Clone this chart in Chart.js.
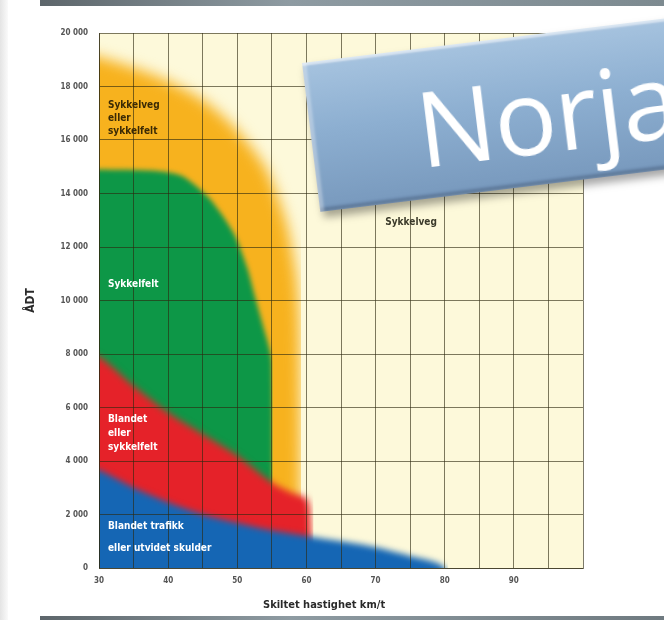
<!DOCTYPE html>
<html>
<head>
<meta charset="utf-8">
<script src="https://cdn.jsdelivr.net/npm/chart.js@4"></script>
<style>
  html, body { margin: 0; padding: 0; background: #fff; }
  body { width: 664px; height: 620px; position: relative; overflow: hidden; }
  #venstre { position: absolute; left: 0; top: 0; width: 8px; height: 620px;
    background: linear-gradient(to right, #e4e4e4, #fafafa); }
  #topp { position: absolute; left: 40px; top: 0; width: 624px; height: 6px;
    background: linear-gradient(to right, #5d666b, #8e9ba2 40%, #7d8a90); }
  #bunn { position: absolute; left: 40px; top: 616px; width: 624px; height: 4px;
    background: linear-gradient(to right, #5d666b, #8e9ba2 40%, #6f7a80); }
  #graf { position: absolute; left: 0; top: 0; }
  #skilt {
    position: absolute; left: 302px; top: 63px; width: 420px; height: 150px;
    transform-origin: 0 0; transform: rotate(-7deg);
    background: linear-gradient(to bottom, #a6c3df, #8dafd1 45%, #7899bd);
    box-shadow: 3px 6px 8px rgba(0,0,0,0.35),
                inset 0 3px 2px rgba(255,255,255,0.55),
                inset 4px 0 3px rgba(255,255,255,0.35),
                inset 0 -4px 3px rgba(40,60,90,0.35);
  }
  #skilt span {
    position: absolute; left: 106px; top: 4px; line-height: 150px;
    font-family: "Open Sans", sans-serif; font-size: 104px; color: #fff;
    letter-spacing: -1px;
  }
</style>
</head>
<body>
<div id="venstre"></div>
<div id="topp"></div>
<div id="bunn"></div>
<canvas id="graf" width="664" height="620"></canvas>
<div id="skilt"><span>Norja</span></div>

<script>
// =============================
// DATA
// =============================
const fartTicks = [30, 40, 50, 60, 70, 80, 90];

// Sykkelveg eller sykkelfelt (oransje)
const sykkelvegX = [25, 30, 35, 40, 45, 49.5, 54, 57, 58.5, 59, 59.2];
const sykkelvegY = [19400, 19100, 18700, 18200, 17500, 16500, 15000, 13000, 11000, 9000, -2000];

// Sykkelfelt (grønn)
const sykkelfeltX = [25, 30, 38, 42, 46, 49.5, 51.4, 52.5, 54, 55, 55.1];
const sykkelfeltY = [14900, 14900, 14850, 14650, 13800, 12500, 11250, 10200, 8800, 7700, -2000];

// Blandet eller sykkelfelt (rød)
const blandetX = [25, 30, 35, 40, 45, 50, 55, 58, 60, 60.5, 61];
const blandetY = [8300, 7900, 6800, 5800, 5000, 4200, 3200, 2800, 2600, 2200, -2000];

// Blandet trafikk eller utvidet skulder (blå)
const trafikkX = [25, 30, 35, 40, 45, 50, 55, 60, 65, 70, 75, 80, 80.5];
const trafikkY = [4000, 3650, 3000, 2450, 2000, 1680, 1400, 1200, 1000, 780, 450, 0, -2000];

const punkter = (xs, ys) => xs.map((x, i) => ({ x: x, y: ys[i] }));

const smal = '"Liberation Sans Narrow", "DejaVu Sans Condensed", sans-serif';
const rutenett = "rgba(45,40,15,0.62)";

// =============================
// PLUGINS
// =============================
// gul bakgrunn i plottet
const bakgrunn = {
  id: "bakgrunn",
  beforeDatasetsDraw(chart) {
    const a = chart.chartArea;
    chart.ctx.save();
    chart.ctx.fillStyle = "#fdf9da";
    chart.ctx.fillRect(a.left, a.top, a.right - a.left, a.bottom - a.top);
    chart.ctx.restore();
  }
};

// myke kanter: blur per datasett (tegnes fra siste til første)
const myk = {
  id: "myk",
  beforeDatasetsDraw(chart) {
    const ds = chart.data.datasets;
    chart.ctx.filter = "blur(" + ds[ds.length - 1].myk + "px)";
  },
  afterDatasetDraw(chart, args) {
    const neste = chart.data.datasets[args.index - 1];
    chart.ctx.filter = neste ? "blur(" + neste.myk + "px)" : "none";
  },
  afterDatasetsDraw(chart) {
    chart.ctx.filter = "none";
  }
};

// tekst i feltene + x-tittel
const tekster = {
  id: "tekster",
  afterDraw(chart) {
    const ctx = chart.ctx;
    const x = chart.scales.x, y = chart.scales.y;
    const skriv = (linjer, vx, vy, farge, steg) => {
      ctx.save();
      ctx.font = "bold 10px " + smal;
      ctx.fillStyle = farge;
      ctx.textBaseline = "middle";
      linjer.forEach((t, i) => {
        ctx.fillText(t, x.getPixelForValue(vx), y.getPixelForValue(vy) + i * steg);
      });
      ctx.restore();
    };
    skriv(["Sykkelveg", "eller", "sykkelfelt"], 31.3, 17300, "#3b2a05", 13);
    skriv(["Sykkelfelt"], 31.3, 10600, "#ffffff", 13);
    skriv(["Blandet", "eller", "sykkelfelt"], 31.3, 5570, "#ffffff", 14);
    skriv(["Blandet trafikk", "eller utvidet skulder"], 31.3, 1570, "#ffffff", 22);
    skriv(["Sykkelveg"], 71.4, 12930, "#3b3a2a", 13);

    // aksetittel under x-aksen, litt til venstre for midten som i originalen
    const a = chart.chartArea;
    ctx.save();
    ctx.font = "bold 11px " + smal;
    ctx.fillStyle = "#2a2a2a";
    ctx.textAlign = "center";
    ctx.textBaseline = "middle";
    ctx.fillText("Skiltet hastighet km/t", a.left + (a.right - a.left) * 0.465, a.bottom + 37);
    ctx.restore();
  }
};

// =============================
// GRAF
// =============================
new Chart(document.getElementById("graf"), {
  type: "line",
  data: {
    datasets: [
      { data: punkter(trafikkX, trafikkY), backgroundColor: "#1566b4", myk: 3 },
      { data: punkter(blandetX, blandetY), backgroundColor: "#e52229", myk: 3.5 },
      { data: punkter(sykkelfeltX, sykkelfeltY), backgroundColor: "#0d9747", myk: 2.5 },
      { data: punkter(sykkelvegX, sykkelvegY), backgroundColor: "#f7b21e", myk: 7 }
    ].map(d => Object.assign(d, {
      fill: { value: -2000 },
      borderWidth: 0,
      pointRadius: 0,
      tension: 0.25
    }))
  },
  options: {
    responsive: false,
    animation: false,
    layout: { padding: { left: 20, top: 33, right: 81, bottom: 6 } },
    plugins: { legend: { display: false }, tooltip: { enabled: false } },
    scales: {
      x: {
        type: "linear", min: 30, max: 100,
        afterFit: s => { s.height = 46; },
        ticks: {
          stepSize: 5, autoSkip: false, maxRotation: 0, padding: 8,
          color: "#555", font: { family: smal, size: 8, weight: "bold" },
          callback: v => fartTicks.includes(v) ? String(v) : ""
        },
        grid: { color: rutenett, lineWidth: 1, drawTicks: false, z: 1 },
        border: { color: rutenett, z: 1 }
      },
      y: {
        min: 0, max: 20000,
        afterFit: s => { s.width = 79; },
        ticks: {
          stepSize: 2000, padding: 11,
          color: "#555", font: { family: smal, size: 8, weight: "bold" },
          callback: v => v === 0 ? "0" : (v / 1000) + " 000"
        },
        grid: { color: rutenett, lineWidth: 1, drawTicks: false, z: 1 },
        border: { color: rutenett, z: 1 },
        title: {
          display: true, text: "ÅDT", color: "#2a2a2a",
          font: { family: smal, size: 12, weight: "bold" }, padding: 4
        }
      }
    }
  },
  plugins: [bakgrunn, myk, tekster]
});
</script>
</body>
</html>
